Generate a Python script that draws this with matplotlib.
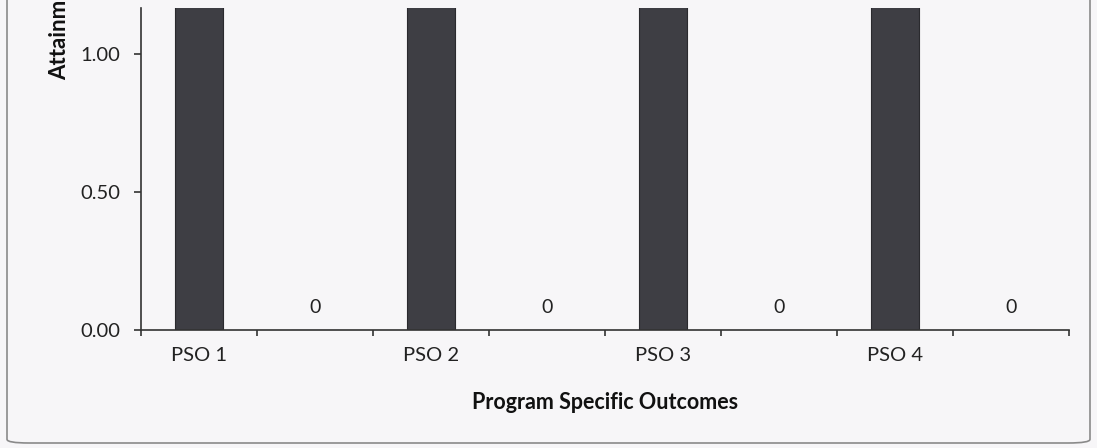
import matplotlib
matplotlib.use("Agg")
import matplotlib.pyplot as plt
from matplotlib.patches import FancyBboxPatch
import numpy as np

# Chart data (bars run past the visible top of the crop)
categories = ["PSO 1", "", "PSO 2", "", "PSO 3", "", "PSO 4", ""]
attainment = [2.2, 0, 2.2, 0, 2.2, 0, 2.2, 0]
value_labels = ["", "0", "", "0", "", "0", "", "0"]
y_ticks = [0.0, 0.5, 1.0]

plt.rcParams['font.family'] = ['Lato', 'DejaVu Sans']

fig = plt.figure(figsize=(10.97, 4.48), dpi=100)
fig.patch.set_facecolor("#f7f6f8")
ax = fig.add_axes([141 / 1097, 1 - 330 / 448, (1069 - 141) / 1097, (330 - 8) / 448])
ax.set_facecolor("#f7f6f8")

x = np.arange(len(categories))
ax.bar(x, attainment, width=0.42, color="#3e3e44", edgecolor="#2a2a2e", linewidth=0.8, zorder=2)

for xi, lab in zip(x, value_labels):
    if lab:
        ax.text(xi, 0.08, lab, ha="center", va="center", fontsize=14, color="#222222")

ax.set_xlim(-0.5, len(categories) - 0.5)
ax.set_ylim(0, 1.167)

# boundary ticks without labels, category labels at centres
ax.set_xticks(np.arange(len(categories) + 1) - 0.5)
ax.set_xticklabels([])
ax.set_xticks(x, minor=True)
ax.set_xticklabels(categories, minor=True, fontsize=14.5, color="#222222")
ax.tick_params(axis="x", which="major", length=4.5, width=1.2, color="#333333", direction="out")
ax.tick_params(axis="x", which="minor", length=0, pad=12)

ax.set_yticks(y_ticks)
ax.set_yticklabels(["%.2f" % v for v in y_ticks], fontsize=14.5, color="#222222")
ax.tick_params(axis="y", length=5, width=1.2, color="#333333", pad=10)

for s in ["top", "right"]:
    ax.spines[s].set_visible(False)
for s in ["left", "bottom"]:
    ax.spines[s].set_color("#333333")
    ax.spines[s].set_linewidth(1.2)

fig.text(605 / 1097, 1 - 402 / 448, "Program Specific Outcomes", ha="center", va="center",
         fontsize=15.5, fontweight="bold", color="#111111")
fig.text(60 / 1097, 1 - 80 / 448, "Attainment Level", rotation=90, ha="center", va="bottom",
         fontsize=16, fontweight="bold", color="#111111")

# rounded outer frame of the scanned chart
frame = FancyBboxPatch((7 / 1097, 5 / 448), (1090 - 7) / 1097, 1.2,
                       boxstyle="round,pad=0,rounding_size=0.02", transform=fig.transFigure,
                       fill=False, edgecolor="#8a8a8a", linewidth=1.2, mutation_aspect=448 / 1097)
fig.patches.append(frame)

fig.savefig("out.png", dpi=100, facecolor=fig.get_facecolor())
